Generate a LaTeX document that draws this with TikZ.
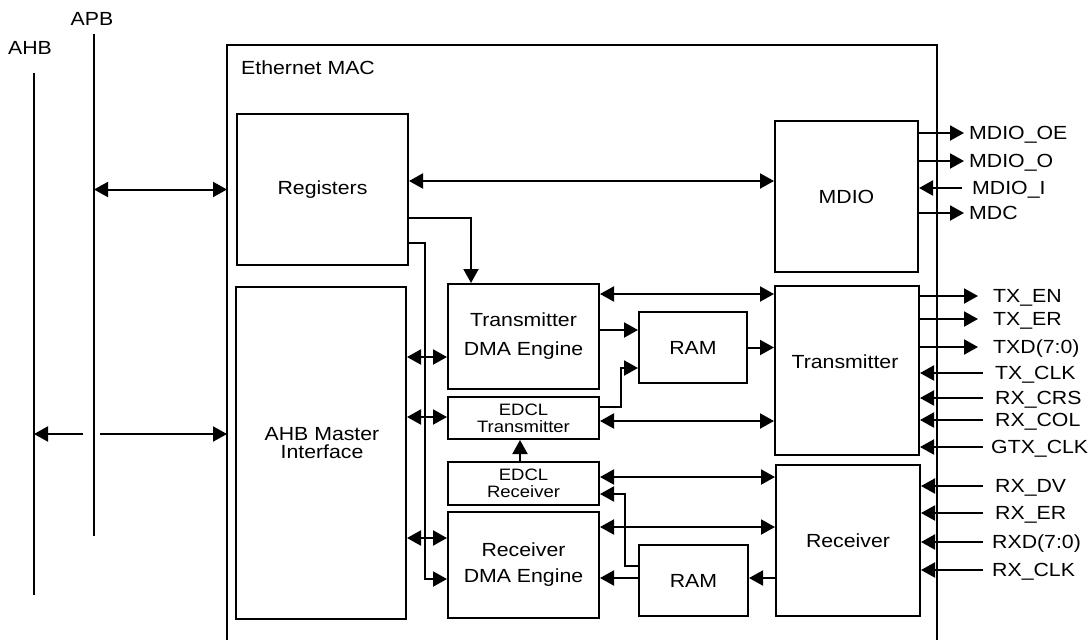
\documentclass[tikz,border=0pt]{standalone}
\usepackage{fontspec}
\setmainfont{Liberation Sans}[FakeStretch=1.12]
\usetikzlibrary{arrows.meta}
\definecolor{darkline}{HTML}{000000}
\tikzset{
  block/.style={
    rectangle,
    draw=darkline,
    line width=2pt,
    inner sep=0pt,
    align=center,
    font=\fontsize{19}{20}\selectfont
  },
  smallblock/.style={
    block,
    font=\fontsize{16.5}{18}\selectfont
  },
  block-text/.style={
    inner sep=0pt,
    align=center,
    font=\fontsize{19}{20}\selectfont
  },
  bus-label/.style={
    inner sep=0pt,
    font=\fontsize{19}{20}\selectfont
  },
  signal/.style={
    anchor=west,
    inner sep=0pt,
    text height=13.5pt,
    text depth=0pt,
    font=\fontsize{19}{20}\selectfont
  },
  wire/.style={
    line width=2pt,
    draw=darkline
  },
  flow/.style={
    wire,
    -{Triangle[length=14pt, width=15pt]}
  },
  biflow/.style={
    wire,
    {Triangle[length=14pt, width=15pt]}-{Triangle[length=14pt, width=15pt]}
  }
}

\begin{document}
\begin{tikzpicture}[x=1pt, y=-1pt]
\useasboundingbox[fill=white] (0,0) rectangle (1091,640);

% Buses.
\node[bus-label] (ahb) at (30,48) {AHB};
\node[bus-label] (apb) at (92,19) {APB};
\coordinate (ahbtop) at (34,73);
\coordinate (ahbbot) at (34,595);
\coordinate (apbtop) at (94,34);
\coordinate (apbbot) at (94,536);
\draw[wire] (ahbtop) -- (ahbbot);
\draw[wire] (apbtop) -- (apbbot);

% Ethernet MAC outline, open at the bottom edge.
\coordinate (macnw) at (227,45);
\coordinate (macne) at (937,45);
\draw[wire] (macnw |- 0,640) -- (macnw) -- (macne) -- (macne |- 0,640);
\node[bus-label, anchor=west] (mactitle) at (241,68) {Ethernet MAC};

% Left column.
\node[block, minimum width=171pt, minimum height=151pt] (regs) at (322.5,189.5) {Registers};
\node[block, minimum width=170pt, minimum height=332pt] (ahbm) at (321,453) {};
\node[block-text] (ahbmtext) at (322,443) {AHB Master\\[-2pt]Interface};

% Middle column.
\node[block, minimum width=151pt, minimum height=105pt] (txdma) at (523.5,336.5) {Transmitter\\[9pt]DMA Engine};
\node[smallblock, minimum width=151pt, minimum height=42pt] (edcltx) at (523.5,418) {EDCL\\[-1pt]Transmitter};
\node[smallblock, minimum width=151pt, minimum height=43pt] (edclrx) at (523.5,483.5) {EDCL\\[-1pt]Receiver};
\node[block, minimum width=151pt, minimum height=106pt] (rxdma) at (523.5,565) {Receiver\\[6pt]DMA Engine};
\node[block, minimum width=108pt, minimum height=71pt] (txram) at (693,347.5) {RAM};
\node[block, minimum width=109pt, minimum height=71pt] (rxram) at (693.5,580.5) {RAM};

% Right column.
\node[block, minimum width=143pt, minimum height=151pt] (mdio) at (846.5,196.5) {MDIO};
\node[block, minimum width=144pt, minimum height=169pt] (tx) at (847,370.5) {};
\node[block-text] (txtext) at (845,362) {Transmitter};
\node[block, minimum width=144pt, minimum height=151pt] (rx) at (848,540.5) {Receiver};

% Bus connections.
\coordinate (gapl) at (83,434);
\coordinate (gapr) at (100,434);
\draw[flow] (gapl) -- (ahbtop |- gapl);
\draw[flow] (gapr) -- (macnw |- gapr);
\draw[biflow] (apbtop |- regs.west) -- (macnw |- regs.west);

% Register paths.
\draw[biflow] (regs.east |- 0,181) -- (mdio.west |- 0,181);
\draw[flow] (regs.east |- 0,218) -| (471,0 |- txdma.north);
\draw[flow] (regs.east |- 0,243) -| (425,579) -- (rxdma.west |- 0,579);

% AHB master to the DMA side.
\draw[biflow] (ahbm.east |- 0,357) -- (txdma.west |- 0,357);
\draw[biflow] (ahbm.east |- 0,417) -- (edcltx.west |- 0,417);
\draw[biflow] (ahbm.east |- 0,538) -- (rxdma.west |- 0,538);

% Transmit side.
\draw[biflow] (txdma.east |- 0,294) -- (tx.west |- 0,294);
\draw[flow] (txdma.east |- 0,330) -- (txram.west |- 0,330);
\draw[flow] (edcltx.east |- 0,407) -| (621,368) -- (txram.west |- 0,368);
\draw[flow] (txram.east) -- (tx.west |- txram.east);
\draw[biflow] (edcltx.east |- 0,421) -- (tx.west |- 0,421);
\draw[flow] (edclrx.north -| 520,0) -- (edcltx.south -| 520,0);

% Receive side.
\draw[biflow] (edclrx.east |- 0,477) -- (rx.west |- 0,477);
\draw[flow] (rxram.west |- 0,566) -| (625,494) -- (edclrx.east |- 0,494);
\draw[biflow] (rxdma.east |- 0,527) -- (rx.west |- 0,527);
\draw[flow] (rxram.west |- 0,578) -- (rxdma.east |- 0,578);
\draw[flow] (rx.west |- 0,578) -- (rxram.east |- 0,578);

% MDIO pins.
\node[signal] (mdiooe) at (969,133) {MDIO\_OE};
\node[signal] (mdioo) at (969,161) {MDIO\_O};
\node[signal] (mdioi) at (972,188) {MDIO\_I};
\node[signal] (mdc) at (969,213) {MDC};
\draw[flow] (mdio.east |- mdiooe.west) -- ([xshift=-5pt]mdiooe.west);
\draw[flow] (mdio.east |- mdioo.west) -- ([xshift=-5pt]mdioo.west);
\draw[flow] ([xshift=-10pt]mdioi.west) -- (mdio.east |- mdioi.west);
\draw[flow] (mdio.east |- mdc.west) -- ([xshift=-5pt]mdc.west);

% Transmitter pins.
\node[signal] (txen) at (993,296) {TX\_EN};
\node[signal] (txer) at (993,319) {TX\_ER};
\node[signal] (txd) at (993,347) {TXD(7:0)};
\node[signal] (txclk) at (995,373) {TX\_CLK};
\node[signal] (rxcrs) at (995,398) {RX\_CRS};
\node[signal] (rxcol) at (995,420) {RX\_COL};
\node[signal] (gtxclk) at (991,447) {GTX\_CLK};
\draw[flow] (tx.east |- txen.west) -- ([xshift=-15pt]txen.west);
\draw[flow] (tx.east |- txer.west) -- ([xshift=-15pt]txer.west);
\draw[flow] (tx.east |- txd.west) -- ([xshift=-15pt]txd.west);
\draw[flow] ([xshift=-12pt]txclk.west) -- (tx.east |- txclk.west);
\draw[flow] ([xshift=-12pt]rxcrs.west) -- (tx.east |- rxcrs.west);
\draw[flow] ([xshift=-12pt]rxcol.west) -- (tx.east |- rxcol.west);
\draw[flow] ([xshift=-8pt]gtxclk.west) -- (tx.east |- gtxclk.west);

% Receiver pins.
\node[signal] (rxdv) at (995,486) {RX\_DV};
\node[signal] (rxer) at (995,513) {RX\_ER};
\node[signal] (rxd) at (992,542) {RXD(7:0)};
\node[signal] (rxclk) at (992,570) {RX\_CLK};
\draw[flow] ([xshift=-12pt]rxdv.west) -- (rx.east |- rxdv.west);
\draw[flow] ([xshift=-12pt]rxer.west) -- (rx.east |- rxer.west);
\draw[flow] ([xshift=-9pt]rxd.west) -- (rx.east |- rxd.west);
\draw[flow] ([xshift=-9pt]rxclk.west) -- (rx.east |- rxclk.west);

\end{tikzpicture}
\end{document}
